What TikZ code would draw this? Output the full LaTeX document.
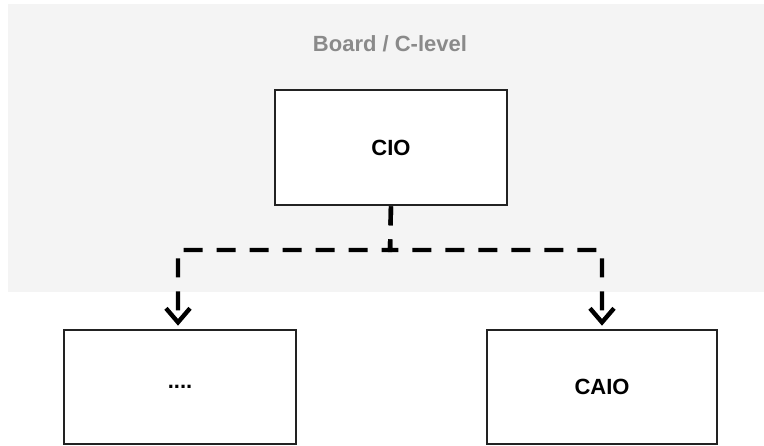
\documentclass[tikz,border=0pt]{standalone}
\usepackage{fontspec}
\setmainfont{Liberation Sans}
\usetikzlibrary{arrows.meta}
\definecolor{levelbg}{HTML}{F4F4F4}
\definecolor{levelfg}{HTML}{8A8A8A}
\definecolor{boxline}{HTML}{222222}
\tikzset{
  role/.style={draw=boxline, line width=2.6pt, fill=white, minimum width=230pt,
    minimum height=114pt, inner sep=0pt, font=\fontsize{22}{26}\selectfont\bfseries},
  report/.style={draw=black, line width=4.4pt, dash pattern=on 19pt off 14pt,
    -{Straight Barb[length=14pt,width=24pt,line width=4.4pt]}, shorten >=3pt},
  levelname/.style={text=levelfg, font=\fontsize{22}{26}\selectfont\bfseries}
}
\begin{document}
\begin{tikzpicture}[x=1pt,y=1pt]
  \useasboundingbox (0,0) rectangle (764,446);
  % board level band
  \fill[levelbg] (8,154) rectangle (764,442);
  \node[levelname] (lvl) at (390,402) {Board / C-level};
  % roles
  \node[role, minimum width=232pt, minimum height=115pt] (cio) at (391,298.5) {CIO};
  \node[role, minimum width=232pt, minimum height=114pt] (other) at (180,59) {....};
  \node[role, minimum width=230pt, minimum height=114pt] (caio) at (602,59) {CAIO};
  % reporting lines
  \coordinate (split) at (390,196);
  \draw[report] (cio.south) -- (split) -| ([xshift=-2pt]other.north);
  \draw[report] (cio.south) -- (split) -| (caio.north);
\end{tikzpicture}
\end{document}
